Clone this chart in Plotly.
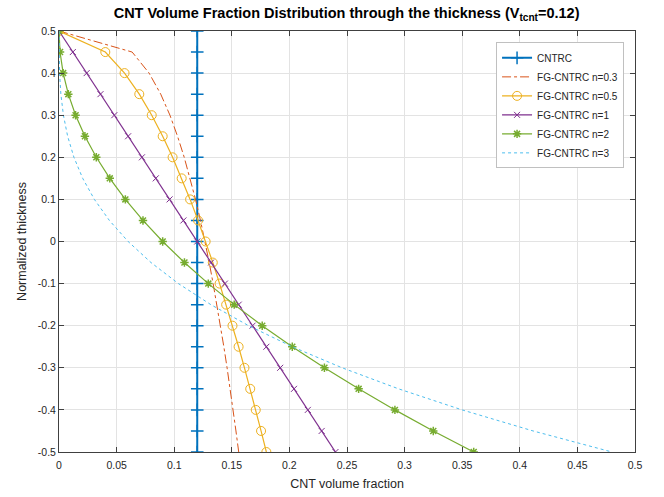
import plotly.graph_objects as go

# normalized thickness coordinate, top (0.5) to bottom (-0.5)
z = [0.5, 0.45, 0.4, 0.35, 0.3, 0.25, 0.2, 0.15, 0.1, 0.05, 0.0,
     -0.05, -0.1, -0.15, -0.2, -0.25, -0.3, -0.35, -0.4, -0.45, -0.5]

# CNT volume fraction for each profile
v_cntrc = [0.12] * 21
v_n03 = [0.0, 0.0635, 0.0782, 0.0883, 0.0963, 0.1029, 0.1087, 0.1138, 0.1185, 0.1228, 0.1267,
         0.1304, 0.1338, 0.1371, 0.1402, 0.1431, 0.1459, 0.1486, 0.1511, 0.1536, 0.156]
v_n05 = [0.0, 0.0402, 0.0569, 0.0697, 0.0805, 0.09, 0.0986, 0.1065, 0.1138, 0.1207, 0.1273,
         0.1335, 0.1394, 0.1451, 0.1506, 0.1559, 0.1610, 0.1660, 0.1708, 0.1754, 0.18]
v_n1 = [0.0, 0.012, 0.024, 0.036, 0.048, 0.06, 0.072, 0.084, 0.096, 0.108, 0.12,
        0.132, 0.144, 0.156, 0.168, 0.18, 0.192, 0.204, 0.216, 0.228, 0.24]
v_n2 = [0.0, 0.0009, 0.0036, 0.0081, 0.0144, 0.0225, 0.0324, 0.0441, 0.0576, 0.0729, 0.09,
        0.1089, 0.1296, 0.1521, 0.1764, 0.2025, 0.2304, 0.2601, 0.2916, 0.3249, 0.36]
v_n3 = [0.0, 0.00006, 0.00048, 0.00162, 0.00384, 0.0075, 0.01296, 0.02058, 0.03072, 0.04374, 0.06,
        0.07986, 0.10368, 0.13182, 0.16464, 0.2025, 0.24576, 0.29478, 0.34992, 0.41154, 0.48]

x_ticks = [0, 0.05, 0.1, 0.15, 0.2, 0.25, 0.3, 0.35, 0.4, 0.45, 0.5]
x_labels = ["0", "0.05", "0.1", "0.15", "0.2", "0.25", "0.3", "0.35", "0.4", "0.45", "0.5"]
y_ticks = [-0.5, -0.4, -0.3, -0.2, -0.1, 0, 0.1, 0.2, 0.3, 0.4, 0.5]
y_labels = ["-0.5", "-0.4", "-0.3", "-0.2", "-0.1", "0", "0.1", "0.2", "0.3", "0.4", "0.5"]

BLUE, ORANGE, YELLOW = "#0072BD", "#D95319", "#EDB120"
PURPLE, GREEN, CYAN = "#7E2F8E", "#77AC30", "#4DBEEE"
AXIS = "#404040"
FONT = "Liberation Sans, Arial, sans-serif"

fig = go.Figure()
fig.add_trace(go.Scatter(
    x=v_cntrc, y=z, name="CNTRC", mode="lines+markers",
    line=dict(color=BLUE, width=2),
    marker=dict(symbol="cross-thin-open", size=9, color=BLUE, line=dict(color=BLUE, width=1.5))))
fig.add_trace(go.Scatter(
    x=v_n03, y=z, name="FG-CNTRC n=0.3", mode="lines",
    line=dict(color=ORANGE, width=1, dash="dashdot")))
fig.add_trace(go.Scatter(
    x=v_n05, y=z, name="FG-CNTRC n=0.5", mode="lines+markers",
    line=dict(color=YELLOW, width=1.2),
    marker=dict(symbol="circle-open", size=9, color=YELLOW, line=dict(color=YELLOW, width=1))))
fig.add_trace(go.Scatter(
    x=v_n1, y=z, name="FG-CNTRC n=1", mode="lines+markers",
    line=dict(color=PURPLE, width=1.2),
    marker=dict(symbol="x-thin-open", size=6, color=PURPLE, line=dict(color=PURPLE, width=1))))
fig.add_trace(go.Scatter(
    x=v_n2, y=z, name="FG-CNTRC n=2", mode="lines+markers",
    line=dict(color=GREEN, width=1.2),
    marker=dict(symbol="asterisk-open", size=7, color=GREEN, line=dict(color=GREEN, width=1.5))))
fig.add_trace(go.Scatter(
    x=v_n3, y=z, name="FG-CNTRC n=3", mode="lines",
    line=dict(color=CYAN, width=1, dash="dot")))

axis_common = dict(
    showline=True, linecolor=AXIS, linewidth=1, mirror="ticks",
    ticks="inside", ticklen=5, tickcolor=AXIS, tickwidth=1,
    showgrid=True, gridcolor="#e3e3e3", gridwidth=1, zeroline=False,
    automargin=False,
    tickfont=dict(family=FONT, size=10.5, color="#262626"),
)

fig.update_layout(
    width=664, height=497,
    margin=dict(l=59, r=29, t=31, b=45),
    paper_bgcolor="white", plot_bgcolor="white",
    title=dict(
        text="<b>CNT Volume Fraction Distribution through the thickness (V<sub>tcnt</sub>=0.12)</b>",
        x=0.522, xanchor="center", y=0.984, yanchor="top",
        font=dict(family=FONT, size=14.5, color="black")),
    xaxis=dict(range=[0, 0.5], tickvals=x_ticks, ticktext=x_labels, ticklabelstandoff=3,
               title=dict(text="CNT volume fraction", standoff=9,
                          font=dict(family=FONT, size=12.5, color="#262626")),
               **axis_common),
    yaxis=dict(range=[-0.5, 0.5], tickvals=y_ticks, ticktext=y_labels,
               title=dict(text="Normalized thickness", standoff=8,
                          font=dict(family=FONT, size=12.5, color="#262626")),
               **axis_common),
    legend=dict(x=0.981, xanchor="right", y=0.973, yanchor="top",
                bgcolor="white", bordercolor="#c0c0c0", borderwidth=1,
                font=dict(family=FONT, size=10, color="#262626"),
                tracegroupgap=0, itemwidth=30),
    showlegend=True,
)

fig.write_html("out.html")
